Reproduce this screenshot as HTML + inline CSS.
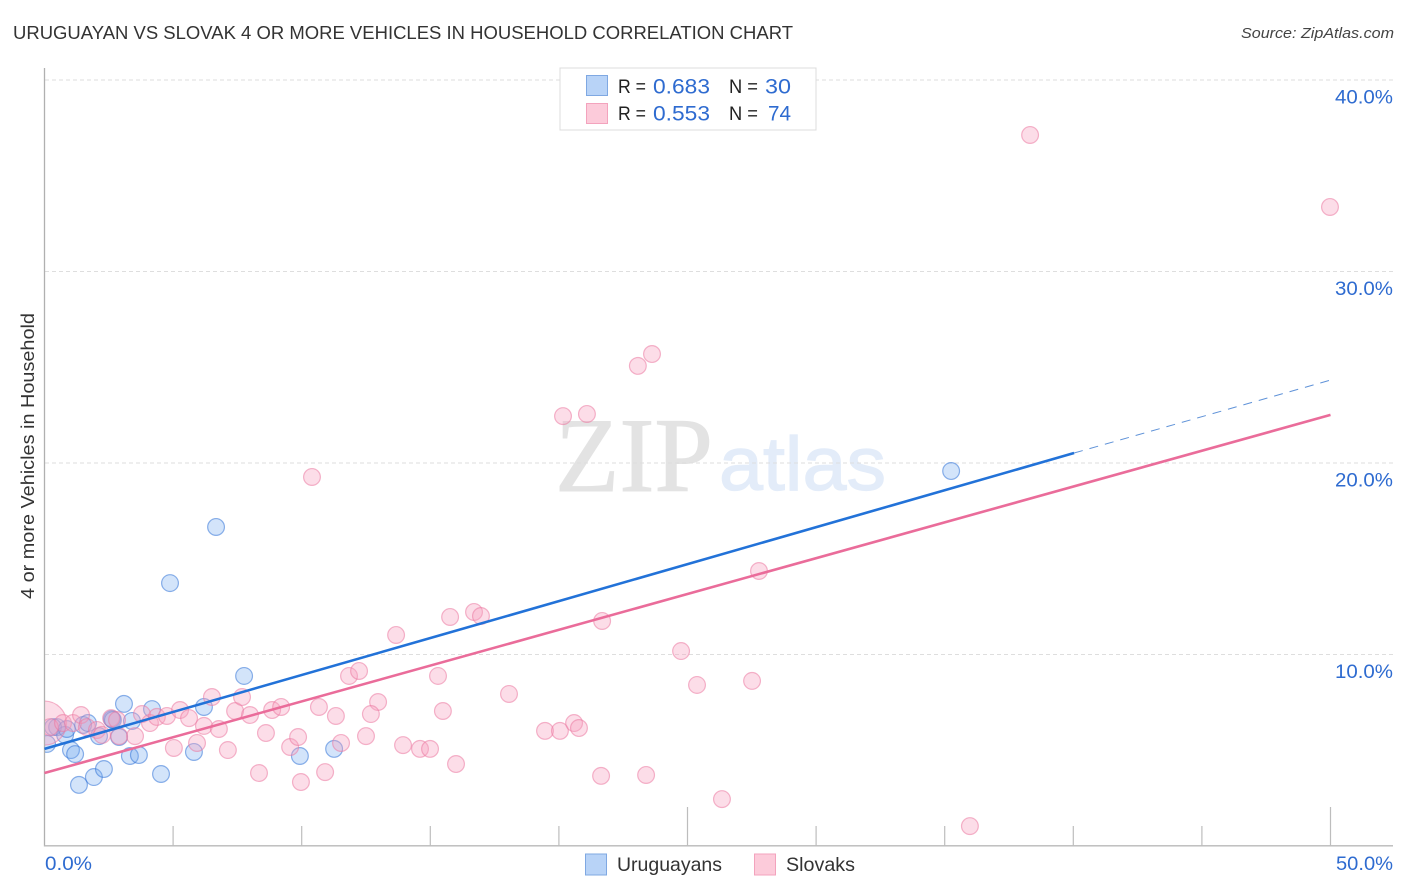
<!DOCTYPE html>
<html>
<head>
<meta charset="utf-8">
<title>Uruguayan vs Slovak 4 or More Vehicles in Household Correlation Chart</title>
<style>
html,body{margin:0;padding:0;background:#fff;width:1406px;height:892px;overflow:hidden}
svg{display:block}
text{font-family:"Liberation Sans",sans-serif}
</style>
</head>
<body>
<svg id="chart" width="1406" height="892" viewBox="0 0 1406 892" xmlns="http://www.w3.org/2000/svg">
  <defs>
    <clipPath id="plot-clip"><rect x="45" y="60" width="1350" height="786"></rect></clipPath>
  </defs>
  <rect width="1406" height="892" fill="#fff"></rect>

  <text x="13" y="39" font-size="18.5" fill="#333" textLength="780" lengthAdjust="spacingAndGlyphs">URUGUAYAN VS SLOVAK 4 OR MORE VEHICLES IN HOUSEHOLD CORRELATION CHART</text>
  <text x="1394" y="38" font-size="15" font-style="italic" fill="#444" text-anchor="end" textLength="153" lengthAdjust="spacingAndGlyphs">Source: ZipAtlas.com</text>

  <g id="watermark">
    <text x="555" y="491" font-size="106" fill="#e3e3e3" stroke="#e3e3e3" stroke-width="1" textLength="158" lengthAdjust="spacingAndGlyphs" style="font-family:'Liberation Serif',serif">ZIP</text>
    <text x="719" y="490" font-size="76" fill="#e3ecf9" stroke="#e3ecf9" stroke-width="1.2" textLength="167" lengthAdjust="spacingAndGlyphs">atlas</text>
  </g>

  <g id="grid"></g>
  <g id="axes"></g>
  <g id="points" clip-path="url(#plot-clip)"></g>
  <g id="trends"></g>
  <g id="labels"></g>

  <text transform="translate(34,456) rotate(-90)" font-size="18.5" fill="#333" text-anchor="middle" textLength="286" lengthAdjust="spacingAndGlyphs">4 or more Vehicles in Household</text>

  <g>
    <rect x="560" y="68" width="256" height="62" fill="#fff" stroke="#dcdcdc" stroke-width="1"></rect>
    <rect x="586.5" y="75.5" width="21" height="20" fill="#b8d3f7" stroke="#7fa8e2"></rect>
    <rect x="586.5" y="103.5" width="21" height="20" fill="#fccbda" stroke="#f3a3bd"></rect>
    <text x="618" y="93" font-size="19.5" fill="#222" textLength="28" lengthAdjust="spacingAndGlyphs">R =</text>
    <text x="653" y="93.5" font-size="21" fill="#2e6bd0" textLength="57" lengthAdjust="spacingAndGlyphs">0.683</text>
    <text x="729" y="93" font-size="19.5" fill="#222" textLength="29" lengthAdjust="spacingAndGlyphs">N =</text>
    <text x="765" y="93.5" font-size="21" fill="#2e6bd0" textLength="26" lengthAdjust="spacingAndGlyphs">30</text>
    <text x="618" y="120" font-size="19.5" fill="#222" textLength="28" lengthAdjust="spacingAndGlyphs">R =</text>
    <text x="653" y="120.5" font-size="21" fill="#2e6bd0" textLength="57" lengthAdjust="spacingAndGlyphs">0.553</text>
    <text x="729" y="120" font-size="19.5" fill="#222" textLength="29" lengthAdjust="spacingAndGlyphs">N =</text>
    <text x="768" y="120.5" font-size="21" fill="#2e6bd0" textLength="23" lengthAdjust="spacingAndGlyphs">74</text>
  </g>

  <g>
    <rect x="585.5" y="854" width="21" height="21" fill="#b8d3f7" stroke="#7fa8e2"></rect>
    <text x="617" y="871" font-size="19.5" fill="#333" textLength="105" lengthAdjust="spacingAndGlyphs">Uruguayans</text>
    <rect x="754.5" y="854" width="21" height="21" fill="#fccbda" stroke="#f3a3bd"></rect>
    <text x="786" y="871" font-size="19.5" fill="#333" textLength="69" lengthAdjust="spacingAndGlyphs">Slovaks</text>
  </g>
</svg>
<script>
const uruguayanX = [0.10,0.49,0.33,0.80,0.87,1.03,1.19,1.34,1.50,1.69,1.92,2.12,2.31,2.62,2.66,2.90,3.09,3.32,3.40,3.67,4.18,4.53,4.88,5.81,6.20,6.67,7.76,9.93,11.26,35.25];
const uruguayanY = [5.33,6.21,6.21,5.80,6.11,5.01,4.80,3.19,6.32,6.42,3.60,5.74,4.02,6.63,6.58,5.69,7.42,4.70,6.53,4.75,7.15,3.76,13.73,4.91,7.26,16.66,8.88,4.70,5.07,19.58];
const slovakX = [0.00,0.21,0.72,1.11,1.42,1.65,2.04,2.24,2.59,2.82,2.90,3.52,3.79,4.10,4.37,4.76,5.03,5.27,5.62,5.93,6.20,6.51,6.78,7.13,7.41,7.68,7.99,8.34,8.61,8.85,9.20,9.55,9.86,9.97,10.67,10.91,11.33,11.53,11.84,12.23,13.67,15.30,15.77,16.70,16.97,21.68,18.06,12.97,12.69,15.49,12.50,13.94,14.60,14.99,16.00,19.46,20.04,20.59,20.78,21.64,23.39,24.75,25.37,27.51,27.78,26.34,35.98,38.32,49.98,20.16,21.09,23.07,23.62,10.40];
const slovakY = [6.42,6.21,6.42,6.42,6.84,6.21,6.06,5.80,6.68,6.58,5.74,5.74,6.89,6.42,6.74,6.79,5.12,7.10,6.68,5.38,6.27,7.78,6.11,5.01,7.05,7.78,6.84,3.81,5.90,7.10,7.26,5.17,5.69,3.34,7.26,3.86,6.79,5.38,8.88,9.14,11.02,8.88,11.96,12.22,12.01,11.75,7.94,7.52,6.89,7.05,5.74,5.27,5.07,5.07,4.28,6.01,6.01,6.42,6.16,3.66,3.71,10.18,8.41,8.62,14.36,2.45,1.04,37.13,33.37,22.45,22.56,25.07,25.69,19.27];
const uruguayanTrend = [5.07, 20.52, 24.33];
const uruguayanTrendX = [0, 40.03, 50];
const slovakTrend = [3.81, 22.51];
const slovakTrendX = [0, 50];
const yTickValues = [10, 20, 30, 40];
const yTickLabels = ['10.0%', '20.0%', '30.0%', '40.0%'];
const xTickValues = [0, 5, 10, 15, 20, 25, 30, 35, 40, 45, 50];
const xEndLabels = ['0.0%', '50.0%'];

const sx = v => 44.5 + v * 25.72;
const sy = v => 846 - v * 19.15;
const NS = 'http://www.w3.org/2000/svg';
function make(tag, parent, attrs) {
  const el = document.createElementNS(NS, tag);
  for (const k in attrs) el.setAttribute(k, attrs[k]);
  parent.appendChild(el);
  return el;
}
const gridG = document.getElementById('grid');
const axesG = document.getElementById('axes');
const pointsG = document.getElementById('points');
const trendsG = document.getElementById('trends');
const labelsG = document.getElementById('labels');

yTickValues.forEach((v, i) => {
  const line = make('line', gridG, {x1: 45, x2: 1393, y1: sy(v), y2: sy(v), stroke: '#dedede', 'stroke-width': 1, 'stroke-dasharray': '4 3'});
  
  
  const t = make('text', labelsG, {x: 1393, y: sy(v) + 23.5, 'font-size': 19.5, fill: '#2e6bd0', 'text-anchor': 'end', textLength: 58, lengthAdjust: 'spacingAndGlyphs'});
  t.textContent = yTickLabels[i];
  
  
});

const yAxis = make('line', axesG, {x1: 44.5, x2: 44.5, y1: 68, y2: 846.5, stroke: '#b0b0b0', 'stroke-width': 1.3});


const xAxis = make('line', axesG, {x1: 44, x2: 1393, y1: 845.8, y2: 845.8, stroke: '#b8b8b8', 'stroke-width': 1.3});


xTickValues.forEach(v => {
  if (v === 0) return;
  const major = v % 25 === 0;
  const tick = make('line', axesG, {x1: sx(v), x2: sx(v), y1: major ? 807 : 826, y2: 846, stroke: '#bdbdbd', 'stroke-width': 1.2});
  
  
});

const x0Label = make('text', labelsG, {x: 45, y: 870, 'font-size': 19.5, fill: '#2e6bd0', textLength: 47, lengthAdjust: 'spacingAndGlyphs'});
x0Label.textContent = xEndLabels[0];


const x1Label = make('text', labelsG, {x: 1393, y: 870, 'font-size': 19.5, fill: '#2e6bd0', 'text-anchor': 'end', textLength: 57, lengthAdjust: 'spacingAndGlyphs'});
x1Label.textContent = xEndLabels[1];



uruguayanX.forEach((v, i) => {
  const c = make('circle', pointsG, {cx: sx(v), cy: sy(uruguayanY[i]), r: 8.4, fill: 'rgba(110,165,240,0.3)', stroke: 'rgba(50,115,215,0.55)', 'stroke-width': 1.2});
  
  
});
slovakX.forEach((v, i) => {
  const c = make('circle', pointsG, {cx: sx(v), cy: sy(slovakY[i]), r: i === 0 ? 22 : 8.4, fill: 'rgba(248,160,190,0.36)', stroke: 'rgba(235,120,160,0.55)', 'stroke-width': 1.2});
  
  
});

const blueSolid = make('line', trendsG, {x1: sx(uruguayanTrendX[0]), y1: sy(uruguayanTrend[0]), x2: sx(uruguayanTrendX[1]), y2: sy(uruguayanTrend[1]), stroke: '#2272d8', 'stroke-width': 2.6});


const blueDash = make('line', trendsG, {x1: sx(uruguayanTrendX[1]), y1: sy(uruguayanTrend[1]), x2: sx(uruguayanTrendX[2]), y2: sy(uruguayanTrend[2]), stroke: '#5f92d8', 'stroke-width': 1, 'stroke-dasharray': '9 7'});


const pinkLine = make('line', trendsG, {x1: sx(slovakTrendX[0]), y1: sy(slovakTrend[0]), x2: sx(slovakTrendX[1]), y2: sy(slovakTrend[1]), stroke: '#ea6c9a', 'stroke-width': 2.6});


</script>
</body>
</html>
